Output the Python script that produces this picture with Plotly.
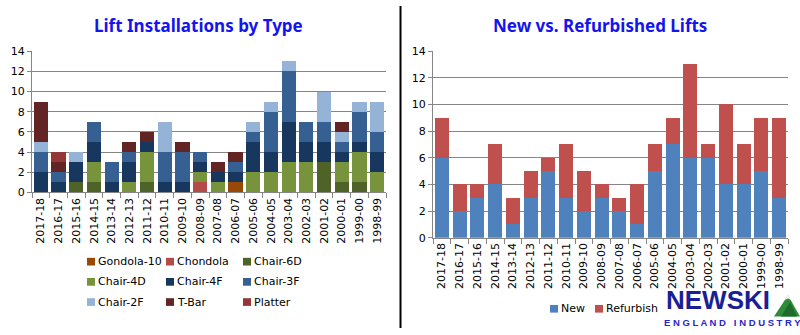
import plotly.graph_objects as go

seasons = ["2017-18", "2016-17", "2015-16", "2014-15", "2013-14", "2012-13", "2011-12",
           "2010-11", "2009-10", "2008-09", "2007-08", "2006-07", "2005-06", "2004-05",
           "2003-04", "2002-03", "2001-02", "2000-01", "1999-00", "1998-99"]

gondola10 = [0, 0, 0, 0, 0, 0, 0, 0, 0, 0, 0, 1, 0, 0, 0, 0, 0, 0, 0, 0]
chondola = [0, 0, 0, 0, 0, 0, 0, 0, 0, 1, 0, 0, 0, 0, 0, 0, 0, 0, 0, 0]
chair6d = [0, 0, 1, 1, 0, 0, 1, 0, 0, 0, 0, 0, 0, 0, 0, 0, 3, 1, 1, 0]
chair4d = [0, 0, 0, 2, 0, 1, 3, 0, 0, 1, 1, 0, 2, 2, 3, 3, 0, 2, 3, 2]
chair4f = [2, 1, 2, 2, 1, 2, 1, 1, 1, 1, 1, 1, 3, 2, 4, 2, 2, 1, 1, 2]
chair3f = [2, 1, 0, 2, 2, 1, 0, 3, 3, 1, 0, 1, 1, 4, 5, 2, 2, 1, 3, 2]
chair2f = [1, 0, 1, 0, 0, 0, 0, 3, 0, 0, 0, 0, 1, 1, 1, 0, 3, 1, 1, 3]
tbar = [4, 1, 0, 0, 0, 1, 1, 0, 1, 0, 1, 1, 0, 0, 0, 0, 0, 1, 0, 0]
platter = [0, 1, 0, 0, 0, 0, 0, 0, 0, 0, 0, 0, 0, 0, 0, 0, 0, 0, 0, 0]

new = [6, 2, 3, 4, 1, 3, 5, 3, 2, 3, 2, 1, 5, 7, 6, 6, 4, 4, 5, 3]
refurbish = [3, 2, 1, 3, 2, 2, 1, 4, 3, 1, 1, 3, 2, 2, 7, 1, 6, 3, 4, 6]

y_ticks = [0, 2, 4, 6, 8, 10, 12, 14]

type_series = [
    ("Gondola-10", gondola10, "#984807"),
    ("Chondola", chondola, "#B34B49"),
    ("Chair-6D", chair6d, "#4F6228"),
    ("Chair-4D", chair4d, "#77933C"),
    ("Chair-4F", chair4f, "#17375E"),
    ("Chair-3F", chair3f, "#376092"),
    ("Chair-2F", chair2f, "#95B3D7"),
    ("T-Bar", tbar, "#632523"),
    ("Platter", platter, "#953735"),
]
status_series = [
    ("New", new, "#4F81BD"),
    ("Refurbish", refurbish, "#C0504D"),
]

W, H = 800, 335
FONT = "DejaVu Sans"

fig = go.Figure()
for name, vals, color in type_series:
    fig.add_trace(go.Bar(x=seasons, y=vals, name=name, marker=dict(color=color, line=dict(width=0)),
                         xaxis="x", yaxis="y", showlegend=False))
for name, vals, color in status_series:
    fig.add_trace(go.Bar(x=seasons, y=vals, name=name, marker=dict(color=color, line=dict(width=0)),
                         xaxis="x2", yaxis="y2", showlegend=False))


def px_x(p):
    return p / W


def px_y(p):
    return (H - p) / H


grid = "#868686"
tickfont = dict(family=FONT, size=11, color="#000000")

xcommon = dict(type="category", tickangle=-90, ticks="outside", tickson="boundaries", ticklen=5,
               tickcolor=grid, showline=True, linecolor=grid, linewidth=1, tickfont=tickfont,
               showgrid=False, fixedrange=True)
ycommon = dict(range=[0, 14], tickvals=y_ticks, showgrid=True, gridcolor=grid, gridwidth=1,
               ticks="outside", ticklen=4, tickcolor=grid, showline=True, linecolor=grid, linewidth=1,
               tickfont=tickfont, zeroline=False, fixedrange=True)

annotations = []
shapes = []

# legend keys (built from the series lists)
leg_font = dict(family=FONT, size=11, color="#000000")
col_x = [87, 166, 243]
row_y = [266, 287, 308]
SW = 8
for i, (name, _, color) in enumerate(type_series):
    cx = col_x[i % 3]
    cy = row_y[i // 3]
    shapes.append(dict(type="rect", xref="paper", yref="paper",
                       x0=px_x(cx), x1=px_x(cx + SW), y0=px_y(cy + SW / 2), y1=px_y(cy - SW / 2),
                       fillcolor=color, line=dict(width=0)))
    annotations.append(dict(text=name, x=px_x(cx + SW + 1), y=px_y(cy), xref="paper", yref="paper",
                            showarrow=False, xanchor="left", yanchor="middle", font=leg_font))
leg2_x = [550, 595]
leg2_y = 315
for i, (name, _, color) in enumerate(status_series):
    cx = leg2_x[i]
    shapes.append(dict(type="rect", xref="paper", yref="paper",
                       x0=px_x(cx), x1=px_x(cx + SW), y0=px_y(leg2_y + SW / 2), y1=px_y(leg2_y - SW / 2),
                       fillcolor=color, line=dict(width=0)))
    annotations.append(dict(text=name, x=px_x(cx + SW + 1), y=px_y(leg2_y), xref="paper", yref="paper",
                            showarrow=False, xanchor="left", yanchor="middle", font=leg_font))

# titles
title_font = dict(family="Noto Sans", size=17, color="#1414F0")
annotations.append(dict(text="<b>Lift Installations by Type</b>", x=px_x(198), y=px_y(20), xref="paper",
                        yref="paper", showarrow=False, xanchor="center", yanchor="middle", font=title_font))
annotations.append(dict(text="<b>New vs. Refurbished Lifts</b>", x=px_x(600), y=px_y(20), xref="paper",
                        yref="paper", showarrow=False, xanchor="center", yanchor="middle", font=title_font))

# logo
annotations.append(dict(text="<b>NEWSKI</b>", x=px_x(665), y=px_y(323), xref="paper", yref="paper",
                        showarrow=False, xanchor="left", yanchor="bottom", borderpad=0,
                        font=dict(family="Liberation Sans", size=26, color="#1A1F96")))
tag = " ".join("ENGLAND") + " &nbsp; " + " ".join("INDUSTRY")
annotations.append(dict(text="<b>" + tag + "</b>", x=px_x(732), y=px_y(329),
                        xref="paper", yref="paper", showarrow=False, xanchor="center", yanchor="middle",
                        borderpad=0, font=dict(family="Liberation Sans", size=9.5, color="#2626C8")))

shapes += [
    dict(type="line", xref="paper", yref="paper", x0=px_x(400.5), x1=px_x(400.5), y0=0, y1=1,
         line=dict(color="#000000", width=2)),
    dict(type="path", xref="paper", yref="paper",
         path=f"M {px_x(774)} {px_y(323)} L {px_x(788)} {px_y(301)} L {px_x(800)} {px_y(323)} Z",
         fillcolor="#2E8B3A", line=dict(width=0)),
    dict(type="path", xref="paper", yref="paper",
         path=f"M {px_x(781)} {px_y(323)} L {px_x(790)} {px_y(308)} L {px_x(797)} {px_y(323)} Z",
         fillcolor="#1F6B2B", line=dict(width=0)),
    dict(type="path", xref="paper", yref="paper",
         path=f"M {px_x(785)} {px_y(306)} L {px_x(788)} {px_y(301)} L {px_x(791)} {px_y(306)} L {px_x(788)} {px_y(304)} Z",
         fillcolor="#FFFFFF", line=dict(width=0)),
]

fig.update_layout(
    width=W, height=H,
    margin=dict(l=0, r=0, t=0, b=0),
    paper_bgcolor="white", plot_bgcolor="white",
    barmode="stack", bargap=0.2,
    showlegend=False,
    xaxis=dict(domain=[px_x(32), px_x(386)], anchor="y", **xcommon),
    yaxis=dict(domain=[px_y(194), px_y(47)], anchor="x", **ycommon),
    xaxis2=dict(domain=[px_x(433), px_x(788)], anchor="y2", **xcommon),
    yaxis2=dict(domain=[px_y(241), px_y(47)], anchor="x2", **ycommon),
    annotations=annotations,
    shapes=shapes,
)

fig.write_html("out.html")
